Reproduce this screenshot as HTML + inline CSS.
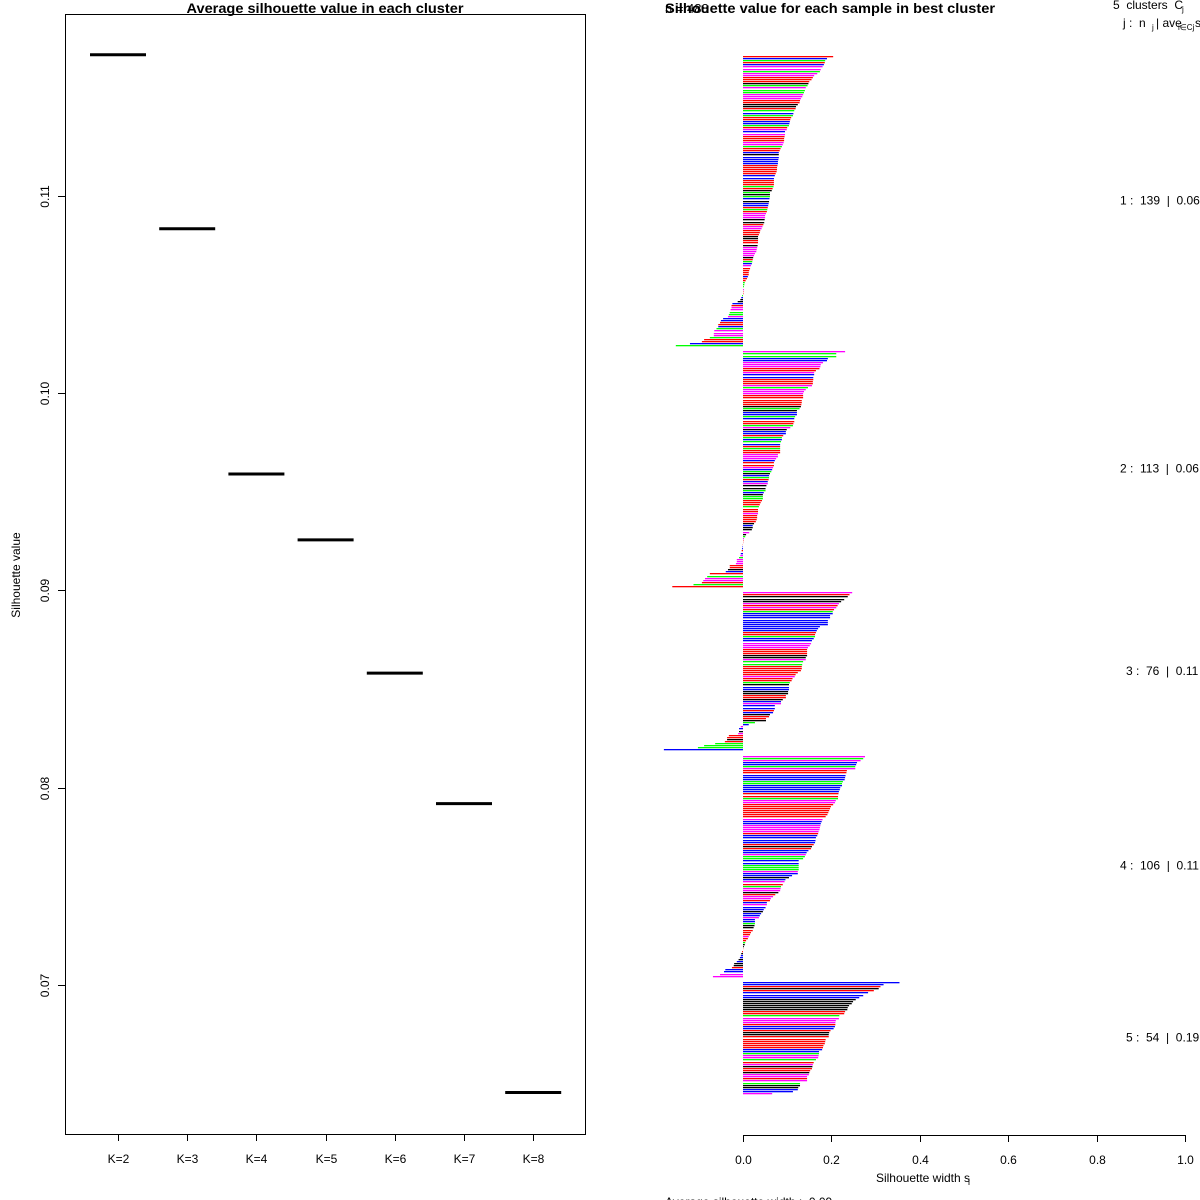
<!DOCTYPE html>
<html><head><meta charset="utf-8"><style>
html,body{margin:0;padding:0;background:#fff;}
svg{display:block;font-family:"Liberation Sans",Arial,sans-serif;}
text{white-space:pre;}
</style></head><body>
<svg id="svg" width="1200" height="1200" viewBox="0 0 1200 1200" xmlns="http://www.w3.org/2000/svg">
<g id="left"></g>
<g id="right"></g>
</svg>
<script>
// Left chart data
const kLabels = ["K=2","K=3","K=4","K=5","K=6","K=7","K=8"];
const avgSil = [0.11715,0.10833,0.09590,0.09256,0.08581,0.07919,0.06455];
const yTicks = [0.07,0.08,0.09,0.10,0.11];
const yTickLabels = ["0.07","0.08","0.09","0.10","0.11"];

// Right chart data
const clusterNames = ["1","2","3","4","5"];
const clusterSizes = [139,113,76,106,54];
const clusterAvg = ["0.06","0.06","0.11","0.11","0.19"];
const c1 = [0.204,0.19,0.186,0.185,0.183,0.180,0.176,0.174,0.168,0.161,0.158,0.155,0.150,0.148,0.146,0.142,0.140,0.138,0.136,0.134,0.131,0.129,0.128,0.124,0.120,0.119,0.116,0.114,0.113,0.109,0.107,0.106,0.105,0.104,0.100,0.099,0.095,0.095,0.094,0.093,0.093,0.092,0.090,0.088,0.085,0.083,0.081,0.081,0.081,0.080,0.079,0.079,0.078,0.077,0.077,0.076,0.074,0.072,0.070,0.070,0.070,0.070,0.069,0.067,0.065,0.061,0.061,0.061,0.060,0.059,0.058,0.057,0.056,0.055,0.054,0.052,0.050,0.050,0.049,0.048,0.046,0.044,0.042,0.039,0.038,0.036,0.034,0.034,0.034,0.034,0.033,0.032,0.031,0.030,0.027,0.025,0.023,0.022,0.021,0.020,0.018,0.016,0.014,0.013,0.013,0.011,0.009,0.006,0.004,0.003,0.002,0.002,0.001,0.001,
-0.002,-0.004,-0.006,-0.012,-0.024,-0.026,-0.026,-0.028,-0.030,-0.032,-0.034,-0.045,-0.050,-0.052,-0.056,-0.056,-0.060,-0.065,-0.066,-0.066,-0.075,-0.088,-0.093,-0.120,-0.152];
const c2 = [0.231,0.211,0.211,0.192,0.190,0.181,0.176,0.175,0.173,0.165,0.161,0.161,0.159,0.159,0.158,0.158,0.156,0.147,0.142,0.138,0.136,0.136,0.136,0.133,0.133,0.132,0.131,0.128,0.122,0.122,0.122,0.118,0.116,0.116,0.114,0.113,0.107,0.099,0.097,0.097,0.091,0.088,0.088,0.086,0.084,0.084,0.084,0.084,0.084,0.079,0.079,0.075,0.072,0.070,0.070,0.068,0.066,0.064,0.061,0.059,0.059,0.058,0.056,0.056,0.053,0.051,0.051,0.047,0.045,0.045,0.045,0.043,0.040,0.038,0.036,0.034,0.034,0.034,0.032,0.032,0.031,0.029,0.025,0.022,0.022,0.020,0.014,0.007,0.005,0.002,0.001,0.0005,-0.0005,-0.001,
-0.002,-0.003,-0.005,-0.006,-0.009,-0.014,-0.014,-0.016,-0.030,-0.030,-0.034,-0.039,-0.075,-0.081,-0.086,-0.090,-0.093,-0.112,-0.160];
const c3 = [0.247,0.241,0.237,0.229,0.222,0.217,0.214,0.211,0.206,0.203,0.203,0.197,0.197,0.192,0.192,0.192,0.174,0.170,0.167,0.165,0.163,0.163,0.160,0.156,0.154,0.151,0.147,0.145,0.145,0.145,0.145,0.142,0.142,0.136,0.134,0.133,0.133,0.131,0.124,0.119,0.117,0.112,0.110,0.106,0.104,0.104,0.104,0.102,0.102,0.097,0.097,0.090,0.086,0.086,0.072,0.072,0.070,0.068,0.061,0.059,0.052,0.052,0.027,0.013,
-0.005,-0.009,-0.009,-0.011,-0.032,-0.036,-0.036,-0.041,-0.063,-0.088,-0.102,-0.179];
const c4 = [0.276,0.272,0.266,0.258,0.256,0.254,0.254,0.235,0.234,0.232,0.231,0.230,0.226,0.224,0.224,0.220,0.219,0.217,0.216,0.215,0.215,0.210,0.208,0.204,0.199,0.197,0.195,0.193,0.191,0.187,0.180,0.178,0.176,0.175,0.174,0.173,0.171,0.170,0.168,0.165,0.164,0.163,0.160,0.156,0.154,0.148,0.144,0.142,0.140,0.136,0.126,0.126,0.126,0.126,0.126,0.124,0.124,0.111,0.104,0.096,0.094,0.090,0.086,0.085,0.084,0.080,0.073,0.068,0.063,0.061,0.054,0.054,0.051,0.047,0.045,0.041,0.038,0.036,0.027,0.027,0.027,0.026,0.024,0.022,0.018,0.016,0.013,0.011,0.007,0.005,0.004,0.002,0.0005,
-0.002,-0.004,-0.005,-0.007,-0.010,-0.014,-0.020,-0.021,-0.025,-0.040,-0.043,-0.052,-0.068];
const c5 = [0.354,0.318,0.311,0.307,0.296,0.283,0.272,0.263,0.255,0.249,0.246,0.240,0.237,0.236,0.231,0.229,0.218,0.217,0.210,0.209,0.209,0.208,0.205,0.198,0.195,0.194,0.194,0.187,0.186,0.185,0.182,0.181,0.179,0.172,0.172,0.171,0.170,0.165,0.160,0.158,0.157,0.156,0.152,0.150,0.149,0.145,0.145,0.145,0.129,0.129,0.125,0.124,0.113,0.066];
const clusterValues = [c1,c2,c3,c4,c5];
const colorCodes = [
 "rbgrbmmgmmrrrkgmggmmmrrkkrgbgrrbbgrmbmrrrmmgrrbkbbbbrrrrrbbrrrgrkgkgbkbbrgrmmmkkrmmrrrkkrrkmmmmmkrgbmrrrrbrrgggmrrgbkkbrmmggmbbrrbgmmmgrrbg",
 "mggbbmmmrrmbbrrrmgmmmrrrrrkgkbbgbrrgmkbbrgbgbrgrrmmmbrrmbgkbgrbmkkgbkggrrrgrrmrrrrkbkkmkgmrrrbbrbmgmmmrrkbrgmmrgrrr",
 "mrkkkmrmrgbbbbbbbbbrrgbbmmmrrrkkmggrrrrrmrrgkbbkkrrkbmbbrbkrrkgbmbkmrrkrgggbmbbbb",
 "mgmbbgmrrbbbggbbbbrrgmmrrrrrrrmbbmmmmrbbbbrkrbbmggbbgggmbbkbmrgmmkrmmrbmbbkbbmbbgkkrrrmrrgkkrrkbbkbkkrbbmmbbgg",
 "bbrkrbbbkkkkkkrrgmmmrbbrkkrrrrrrbbgmmgrmkrrkmmrmgkkbbm"
];
const xTicks = [0,0.2,0.4,0.6,0.8,1.0];
const xTickLabels = ["0.0","0.2","0.4","0.6","0.8","1.0"];

const NS="http://www.w3.org/2000/svg";
function mk(tag, attrs, parent, text){
  const e=document.createElementNS(NS,tag);
  for(const k in attrs) e.setAttribute(k,attrs[k]);
  if(text!==undefined) e.textContent=text;
  parent.appendChild(e); return e;
}
const L=document.getElementById('left'), R=document.getElementById('right');

// ---------- Left panel ----------
const box={x0:65,x1:585,y0:14,y1:1134};
function yL(v){ return 985 + (0.07 - v)/0.01*197.3; }
function xL(i){ return 118 + i*69.2; }
let t=mk('text',{x:325,y:13,'font-size':14,'font-weight':'bold','text-anchor':'middle',textLength:277,lengthAdjust:'spacingAndGlyphs'},L,"Average silhouette value in each cluster");


let b=mk('rect',{x:box.x0+0.5,y:box.y0+0.5,width:box.x1-box.x0,height:box.y1-box.y0,fill:'none',stroke:'#000','stroke-width':1},L);


yTicks.forEach((v,i)=>{
  const y=Math.round(yL(v))+0.5;
  const tk=mk('line',{x1:58,x2:65,y1:y,y2:y,stroke:'#000'},L);
  
  
  const lb=mk('text',{x:49,y:y,'font-size':12,'text-anchor':'middle',transform:`rotate(-90 49 ${y})`},L,yTickLabels[i]);
  
  
});
t=mk('text',{x:20,y:575,'font-size':12,'text-anchor':'middle',transform:'rotate(-90 20 575)'},L,"Silhouette value");


kLabels.forEach((k,i)=>{
  const x=Math.round(xL(i))+0.5;
  const tk=mk('line',{x1:x,x2:x,y1:1134,y2:1141,stroke:'#000'},L);
  
  
  const lb=mk('text',{x:x,y:1163,'font-size':12,'text-anchor':'middle'},L,k);
  
  
  const y=yL(avgSil[i]);
  const seg=mk('line',{x1:xL(i)-28,x2:xL(i)+28,y1:y,y2:y,stroke:'#000','stroke-width':3},L);
  
  
});

// ---------- Right panel ----------
function xR(v){ return 743 + v*442; }
const colMap={k:'#000',r:'#ff0000',g:'#00ff00',b:'#0000ff',m:'#ff00ff'};
const totalSlots = clusterSizes.reduce((a,c)=>a+c,0) + 2*(clusterSizes.length-1);
const step = (1093-56)/(totalSlots-1);
let slot=0;
const labelX=[1120,1120,1126,1120,1126];
clusterValues.forEach((vals,ci)=>{
  const g=mk('g',{},R);
  
  
  const startSlot=slot;
  vals.forEach((v,j)=>{
    const y=Math.round(56+slot*step);
    const code=colorCodes[ci][j % colorCodes[ci].length];
    const x0=xR(Math.min(0,v)), x1=xR(Math.max(0,v));
    const r=mk('rect',{x:x0,y:y,width:Math.max(0,x1-x0),height:1.3,fill:colMap[code]},g);
    
    
    slot++;
  });
  const midY = 56 + (startSlot + (vals.length-1)/2)*step;
  const lb=mk('text',{x:labelX[ci],y:midY+4,'font-size':12},R,
    clusterNames[ci]+" :  "+clusterSizes[ci]+"  |  "+clusterAvg[ci]);
  
  
  slot+=2;
});
let ax=mk('line',{x1:743,x2:1185,y1:1135.5,y2:1135.5,stroke:'#000'},R);


xTicks.forEach((v,i)=>{
  const x=Math.round(xR(v))+0.5;
  const tk=mk('line',{x1:x,x2:x,y1:1135,y2:1142,stroke:'#000'},R);
  
  
  const lb=mk('text',{x:x,y:1164,'font-size':12,'text-anchor':'middle'},R,xTickLabels[i]);
  
  
});
t=mk('text',{x:923,y:1182,'font-size':12,'text-anchor':'middle'},R,"Silhouette width s");


t=mk('text',{x:968,y:1185,'font-size':9},R,"i");


t=mk('text',{x:665,y:1206,'font-size':12},R,"Average silhouette width :  0.09");


t=mk('text',{x:665,y:13,'font-size':13},R,"n = 488");


t=mk('text',{x:665,y:13,'font-size':14,'font-weight':'bold',textLength:330,lengthAdjust:'spacingAndGlyphs'},R,"Silhouette value for each sample in best cluster");


t=mk('text',{x:1113,y:9,'font-size':12},R,"5  clusters  C");


t=mk('text',{x:1182,y:12,'font-size':8},R,"j");


t=mk('text',{x:1123,y:27,'font-size':12},R,"j :  n");


t=mk('text',{x:1152,y:30,'font-size':8},R,"j");


t=mk('text',{x:1156,y:27,'font-size':12},R,"| ave");


t=mk('text',{x:1178,y:30,'font-size':8},R,"i∈Cj");


t=mk('text',{x:1195,y:27,'font-size':12},R,"s");


</script>
</body></html>
